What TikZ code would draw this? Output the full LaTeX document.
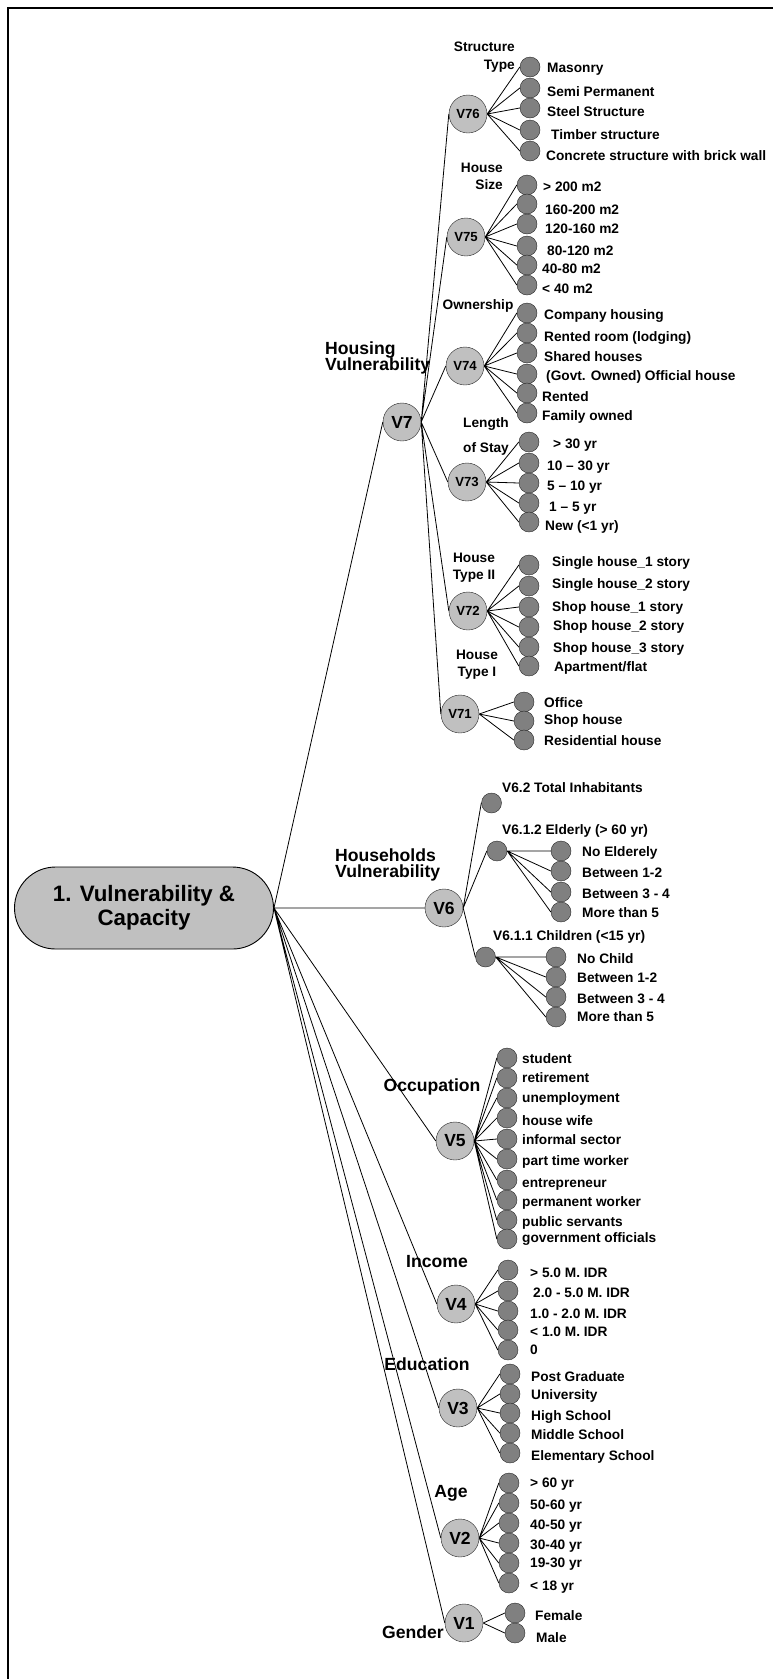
\documentclass[tikz,border=0pt]{standalone}
\usepackage{fontspec}
\setmainfont{Liberation Sans}
\usepackage{xcolor}
\usepackage{tikz}
\usetikzlibrary{positioning}

\definecolor{vgray}{RGB}{192,192,192}
\definecolor{lgray}{RGB}{128,128,128}

\begin{document}
\begin{tikzpicture}[
    x=1pt, y=-1pt,
    vnode/.style={circle, draw=black!85, fill=vgray, minimum size=38pt, inner sep=0pt, font=\fontsize{13.2}{15}\selectfont\bfseries},
    vbig/.style={vnode, font=\fontsize{17.5}{20}\selectfont\bfseries},
    leaf/.style={circle, draw=black!85, fill=lgray, minimum size=20pt, inner sep=0pt},
    lbl/.style={anchor=west, inner sep=0pt, font=\fontsize{13.7}{15}\selectfont\bfseries},
    grp/.style={inner sep=0pt, font=\fontsize{17.6}{16.5}\selectfont\bfseries},
    subgrp/.style={inner sep=0pt, font=\fontsize{13.7}{16.7}\selectfont\bfseries},
    link/.style={draw=black, line width=0.8pt}
]
\useasboundingbox (0,0) rectangle (773,1679);
\draw[line width=2.5pt] (8,1679) -- (8,8) -- (773,8);

% root
\node[rectangle, draw=black, line width=0.9pt, fill=vgray, rounded corners=41pt, minimum width=259pt, minimum height=82pt, align=center, font=\fontsize{22.3}{24.3}\selectfont\bfseries] (root) at (144,908) {1. Vulnerability \&\\Capacity};

% main branches
\node[vbig] (v7) at (402,422) {V7};
\node[vbig] (v6) at (444,908) {V6};
\node[vbig] (v5) at (455,1141) {V5};
\node[vbig] (v4) at (456,1304) {V4};
\node[vbig] (v3) at (458,1408) {V3};
\node[vbig] (v2) at (460,1538) {V2};
\node[vbig] (v1) at (464,1623) {V1};

\node[grp, anchor=west, align=left] (hvul) at (325,358) {Housing\\Vulnerability};
\node[grp, anchor=west, align=left] (hhvul) at (335,865) {Households\\Vulnerability};
\node[grp] (occ) at (432,1087) {Occupation};
\node[grp] (inc) at (437,1262) {Income};
\node[grp] (edu) at (427,1364) {Education};
\node[grp] (age) at (451,1493) {Age};
\node[grp] (gen) at (413,1632) {Gender};

\draw[link] (root.east) -- (v7.west) (root.east) -- (v6.west) (root.east) -- (v5.west) (root.east) -- (v4.west) (root.east) -- (v3.west) (root.east) -- (v2.west) (root.east) -- (v1.west);

% housing vulnerability
\node[vnode] (v76) at (468,114) {V76};
\node[vnode] (v75) at (466,237) {V75};
\node[vnode] (v74) at (465,366) {V74};
\node[vnode] (v73) at (467,482) {V73};
\node[vnode] (v72) at (468,611) {V72};
\node[vnode] (v71) at (460,714) {V71};
\draw[link] (v7.east) -- (v76.west) (v7.east) -- (v75.west) (v7.east) -- (v74.west) (v7.east) -- (v73.west) (v7.east) -- (v72.west) (v7.east) -- (v71.west);

\node[subgrp, anchor=east, align=right, font=\fontsize{13.7}{18}\selectfont\bfseries] (stype) at (515,57) {Structure\\Type};
\node[subgrp, anchor=east, align=right] (hsize) at (503,176) {House\\Size};
\node[subgrp] (own) at (478,306) {Ownership};
\node[subgrp, align=center, font=\fontsize{13.7}{25}\selectfont\bfseries] (stay) at (486,436) {Length\\of Stay};
\node[subgrp, align=center] (htype2) at (474,568) {House\\Type II};
\node[subgrp, align=center, font=\fontsize{13.7}{17.3}\selectfont\bfseries] (htype1) at (477,665) {House\\Type I};

% V76
\node[leaf] (st1) at (530,67) {};
\node[leaf] (st2) at (530,88) {};
\node[leaf] (st3) at (530,108) {};
\node[leaf] (st4) at (530,130) {};
\node[leaf] (st5) at (530,151) {};
\node[lbl] (st1t) at (547,69) {Masonry};
\node[lbl] (st2t) at (547,92) {Semi Permanent};
\node[lbl] (st3t) at (547,112) {Steel Structure};
\node[lbl] (st4t) at (551,135) {Timber structure};
\node[lbl] (st5t) at (546,156) {Concrete structure with brick wall};
\draw[link] (v76.east) -- (st1.west) (v76.east) -- (st2.west) (v76.east) -- (st3.west) (v76.east) -- (st4.west) (v76.east) -- (st5.west);

% V75
\node[leaf] (hs1) at (527,185) {};
\node[leaf] (hs2) at (527,204) {};
\node[leaf] (hs3) at (527,224) {};
\node[leaf] (hs4) at (527,246) {};
\node[leaf] (hs5) at (527,265) {};
\node[leaf] (hs6) at (527,285) {};
\node[lbl] (hs1t) at (543,187) {> 200 m2};
\node[lbl] (hs2t) at (545,210) {160-200 m2};
\node[lbl] (hs3t) at (545,229) {120-160 m2};
\node[lbl] (hs4t) at (547,251) {80-120 m2};
\node[lbl] (hs5t) at (542,269) {40-80 m2};
\node[lbl] (hs6t) at (542,289) {< 40 m2};
\draw[link] (v75.east) -- (hs1.west) (v75.east) -- (hs2.west) (v75.east) -- (hs3.west) (v75.east) -- (hs4.west) (v75.east) -- (hs5.west) (v75.east) -- (hs6.west);

% V74
\node[leaf] (ow1) at (527,313) {};
\node[leaf] (ow2) at (527,333) {};
\node[leaf] (ow3) at (527,353) {};
\node[leaf] (ow4) at (527,374) {};
\node[leaf] (ow5) at (527,393) {};
\node[leaf] (ow6) at (527,413) {};
\node[lbl] (ow1t) at (544,316) {Company housing};
\node[lbl] (ow2t) at (544,338) {Rented room (lodging)};
\node[lbl] (ow3t) at (544,357) {Shared houses};
\node[lbl] (ow4t) at (546,377) {(Govt. Owned) Official house};
\node[lbl] (ow5t) at (542,397) {Rented};
\node[lbl] (ow6t) at (542,417) {Family owned};
\draw[link] (v74.east) -- (ow1.west) (v74.east) -- (ow2.west) (v74.east) -- (ow3.west) (v74.east) -- (ow4.west) (v74.east) -- (ow5.west) (v74.east) -- (ow6.west);

% V73
\node[leaf] (ls1) at (529,442) {};
\node[leaf] (ls2) at (529,463) {};
\node[leaf] (ls3) at (529,483) {};
\node[leaf] (ls4) at (529,503) {};
\node[leaf] (ls5) at (529,522) {};
\node[lbl] (ls1t) at (553,445) {> 30 yr};
\node[lbl] (ls2t) at (547,467) {10 – 30 yr};
\node[lbl] (ls3t) at (547,487) {5 – 10 yr};
\node[lbl] (ls4t) at (549,508) {1 – 5 yr};
\node[lbl] (ls5t) at (545,527) {New (<1 yr)};
\draw[link] (v73.east) -- (ls1.west) (v73.east) -- (ls2.west) (v73.east) -- (ls3.west) (v73.east) -- (ls4.west) (v73.east) -- (ls5.west);

% V72
\node[leaf] (ht1) at (529,565) {};
\node[leaf] (ht2) at (529,586) {};
\node[leaf] (ht3) at (529,607) {};
\node[leaf] (ht4) at (529,627) {};
\node[leaf] (ht5) at (529,647) {};
\node[leaf] (ht6) at (529,666) {};
\node[lbl] (ht1t) at (552,563) {Single house\_1 story};
\node[lbl] (ht2t) at (552,585) {Single house\_2 story};
\node[lbl] (ht3t) at (552,608) {Shop house\_1 story};
\node[lbl] (ht4t) at (553,627) {Shop house\_2 story};
\node[lbl] (ht5t) at (553,649) {Shop house\_3 story};
\node[lbl] (ht6t) at (554,668) {Apartment/flat};
\draw[link] (v72.east) -- (ht1.west) (v72.east) -- (ht2.west) (v72.east) -- (ht3.west) (v72.east) -- (ht4.west) (v72.east) -- (ht5.west) (v72.east) -- (ht6.west);

% V71
\node[leaf] (hb1) at (524,702) {};
\node[leaf] (hb2) at (524,721) {};
\node[leaf] (hb3) at (524,740) {};
\node[lbl] (hb1t) at (544,703) {Office};
\node[lbl] (hb2t) at (544,721) {Shop house};
\node[lbl] (hb3t) at (544,741) {Residential house};
\draw[link] (v71.east) -- (hb1.west) (v71.east) -- (hb2.west) (v71.east) -- (hb3.west);

% households vulnerability
\node[leaf] (v62) at (491.5,803) {};
\node[leaf] (v612) at (497,851) {};
\node[leaf] (v611) at (485.5,957) {};
\node[lbl] (v62t) at (502,788) {V6.2 Total Inhabitants};
\node[lbl] (v612t) at (502,831) {V6.1.2 Elderly (> 60 yr)};
\node[lbl] (v611t) at (493,937) {V6.1.1 Children (<15 yr)};
\draw[link] (v6.east) -- (v62.west) (v6.east) -- (v612.west) (v6.east) -- (v611.west);

\node[leaf] (el1) at (561,851) {};
\node[leaf] (el2) at (561,871) {};
\node[leaf] (el3) at (561,892) {};
\node[leaf] (el4) at (561,912) {};
\node[lbl] (el1t) at (582,853) {No Elderely};
\node[lbl] (el2t) at (582,873) {Between 1-2};
\node[lbl] (el3t) at (582,894) {Between 3 - 4};
\node[lbl] (el4t) at (582,913) {More than 5};
\draw[link] (v612.east) -- (el1.west) (v612.east) -- (el2.west) (v612.east) -- (el3.west) (v612.east) -- (el4.west);

\node[leaf] (ch1) at (556,957) {};
\node[leaf] (ch2) at (556,977) {};
\node[leaf] (ch3) at (556,997) {};
\node[leaf] (ch4) at (556,1017) {};
\node[lbl] (ch1t) at (577,959) {No Child};
\node[lbl] (ch2t) at (577,978) {Between 1-2};
\node[lbl] (ch3t) at (577,999) {Between 3 - 4};
\node[lbl] (ch4t) at (577,1017) {More than 5};
\draw[link] (v611.east) -- (ch1.west) (v611.east) -- (ch2.west) (v611.east) -- (ch3.west) (v611.east) -- (ch4.west);

% occupation
\node[leaf] (oc1) at (507,1058) {};
\node[leaf] (oc2) at (507,1078) {};
\node[leaf] (oc3) at (507,1098) {};
\node[leaf] (oc4) at (507,1118) {};
\node[leaf] (oc5) at (507,1139) {};
\node[leaf] (oc6) at (507,1159) {};
\node[leaf] (oc7) at (507,1180) {};
\node[leaf] (oc8) at (507,1200) {};
\node[leaf] (oc9) at (507,1220) {};
\node[leaf] (oc10) at (507,1239) {};
\node[lbl] (oc1t) at (522,1059) {student};
\node[lbl] (oc2t) at (522,1078) {retirement};
\node[lbl] (oc3t) at (522,1099) {unemployment};
\node[lbl] (oc4t) at (522,1121) {house wife};
\node[lbl] (oc5t) at (522,1140) {informal sector};
\node[lbl] (oc6t) at (522,1162) {part time worker};
\node[lbl] (oc7t) at (522,1184) {entrepreneur};
\node[lbl] (oc8t) at (522,1203) {permanent worker};
\node[lbl] (oc9t) at (522,1223) {public servants};
\node[lbl] (oc10t) at (522,1239) {government officials};
\draw[link] (v5.east) -- (oc1.west) (v5.east) -- (oc2.west) (v5.east) -- (oc3.west) (v5.east) -- (oc4.west) (v5.east) -- (oc5.west) (v5.east) -- (oc6.west) (v5.east) -- (oc7.west) (v5.east) -- (oc8.west) (v5.east) -- (oc9.west) (v5.east) -- (oc10.west);

% income
\node[leaf] (in1) at (508,1270) {};
\node[leaf] (in2) at (508,1291) {};
\node[leaf] (in3) at (508,1311) {};
\node[leaf] (in4) at (508,1330) {};
\node[leaf] (in5) at (508,1350) {};
\node[lbl] (in1t) at (530,1273) {> 5.0 M. IDR};
\node[lbl] (in2t) at (533,1293) {2.0 - 5.0 M. IDR};
\node[lbl] (in3t) at (530,1314) {1.0 - 2.0 M. IDR};
\node[lbl] (in4t) at (530,1332) {< 1.0 M. IDR};
\node[lbl] (in5t) at (530,1350) {0};
\draw[link] (v4.east) -- (in1.west) (v4.east) -- (in2.west) (v4.east) -- (in3.west) (v4.east) -- (in4.west) (v4.east) -- (in5.west);

% education
\node[leaf] (ed1) at (510,1374) {};
\node[leaf] (ed2) at (510,1394) {};
\node[leaf] (ed3) at (510,1413) {};
\node[leaf] (ed4) at (510,1433) {};
\node[leaf] (ed5) at (510,1453) {};
\node[lbl] (ed1t) at (531,1377) {Post Graduate};
\node[lbl] (ed2t) at (531,1396) {University};
\node[lbl] (ed3t) at (531,1417) {High School};
\node[lbl] (ed4t) at (531,1435) {Middle School};
\node[lbl] (ed5t) at (531,1457) {Elementary School};
\draw[link] (v3.east) -- (ed1.west) (v3.east) -- (ed2.west) (v3.east) -- (ed3.west) (v3.east) -- (ed4.west) (v3.east) -- (ed5.west);

% age
\node[leaf] (ag1) at (509,1483) {};
\node[leaf] (ag2) at (509,1503) {};
\node[leaf] (ag3) at (509,1523) {};
\node[leaf] (ag4) at (509,1543) {};
\node[leaf] (ag5) at (509,1563) {};
\node[leaf] (ag6) at (509,1583) {};
\node[lbl] (ag1t) at (530,1484) {> 60 yr};
\node[lbl] (ag2t) at (530,1506) {50-60 yr};
\node[lbl] (ag3t) at (530,1526) {40-50 yr};
\node[lbl] (ag4t) at (530,1546) {30-40 yr};
\node[lbl] (ag5t) at (530,1564) {19-30 yr};
\node[lbl] (ag6t) at (530,1587) {< 18 yr};
\draw[link] (v2.east) -- (ag1.west) (v2.east) -- (ag2.west) (v2.east) -- (ag3.west) (v2.east) -- (ag4.west) (v2.east) -- (ag5.west) (v2.east) -- (ag6.west);

% gender
\node[leaf] (ge1) at (515,1613) {};
\node[leaf] (ge2) at (515,1633) {};
\node[lbl] (ge1t) at (535,1616) {Female};
\node[lbl] (ge2t) at (536,1638) {Male};
\draw[link] (v1.east) -- (ge1.west) (v1.east) -- (ge2.west);

\end{tikzpicture}
\end{document}
